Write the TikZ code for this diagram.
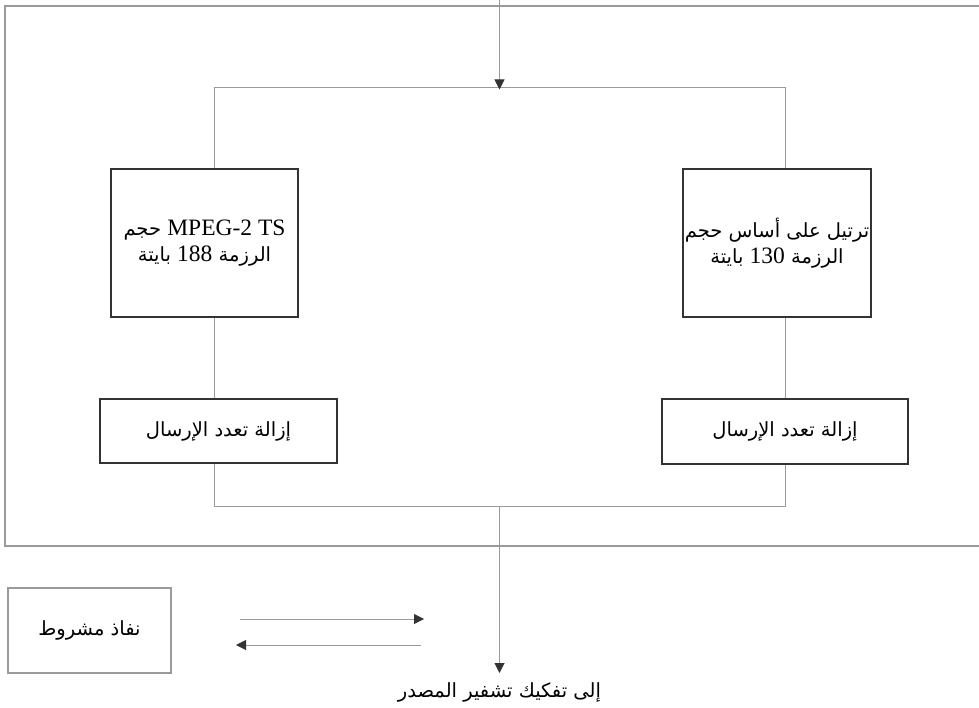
\documentclass[tikz,border=0pt]{standalone}
\usepackage{fontspec}
\setmainfont{Liberation Serif}
\newfontfamily\arabicfont[Script=Arabic,Scale=0.83]{DejaVu Sans}
\TeXXeTstate=1
\usetikzlibrary{arrows.meta}

\definecolor{linegray}{HTML}{9A9A9A}
\definecolor{boxdark}{HTML}{333333}

% one right-to-left line of Arabic text
\newcommand{\rtl}[1]{{\arabicfont\beginR #1\endR}}
% a left-to-right run (Latin or digits) inside an Arabic line
\newcommand{\ltr}[1]{\beginL{\rmfamily #1}\endL{}}

\begin{document}
\begin{tikzpicture}[x=1pt,y=-1pt,
  frame/.style={draw=linegray, line width=1.3pt},
  link/.style={draw=linegray, line width=1pt},
  unit/.style={draw=boxdark, line width=2pt, fill=white, inner sep=0pt},
  plain/.style={draw=linegray, line width=1.3pt, fill=white, inner sep=0pt},
  tip/.style={-{Triangle[length=10pt,width=10pt,color=boxdark]}, draw=linegray, line width=1pt},
  txt/.style={font=\fontsize{23.5}{26}\selectfont, align=center}]
\useasboundingbox (0,0) rectangle (979,708);

% outer frame, open to the right
\draw[frame] (995,6) -| (5,546) -- (995,546);

% inner bus joining both branches
\node[link, minimum width=571pt, minimum height=418pt, inner sep=0pt] (bus) at (499.5,297) {};

% branch boxes
\node[unit, txt, minimum width=187pt, minimum height=148pt] (mpeg) at (204.5,243)
  {\rtl{\ltr{MPEG-2 TS} حجم}\\ \rtl{الرزمة \ltr{188} بايتة}};
\node[unit, txt, minimum width=188pt, minimum height=148pt] (pkt) at (777,243)
  {\rtl{ترتيل على أساس حجم}\\ \rtl{الرزمة \ltr{130} بايتة}};
\node[unit, txt, minimum width=237pt, minimum height=64pt] (demuxL) at (218.5,431)
  {\rtl{إزالة تعدد الإرسال}};
\node[unit, txt, minimum width=246pt, minimum height=65pt] (demuxR) at (785,431)
  {\rtl{إزالة تعدد الإرسال}};

% conditional access
\node[plain, txt, minimum width=163pt, minimum height=85pt] (ca) at (89.5,630.5)
  {\rtl{نفاذ مشروط}};

% input and output
\coordinate (src) at (499.5,0);
\coordinate (dst) at (499.5,673);
\node[txt, anchor=north] (dec) at (499.5,679) {\rtl{إلى تفكيك تشفير المصدر}};

\draw[tip] (src) -- ([yshift=-2pt]bus.north);
\draw[tip] (bus.south) -- (dst);

% exchange with conditional access
\coordinate (fwdA) at (240,619);
\coordinate (fwdB) at (424,619);
\coordinate (bckA) at (421,645);
\coordinate (bckB) at (236,645);
\draw[tip] (fwdA) -- (fwdB);
\draw[tip] (bckA) -- (bckB);
\end{tikzpicture}
\end{document}
